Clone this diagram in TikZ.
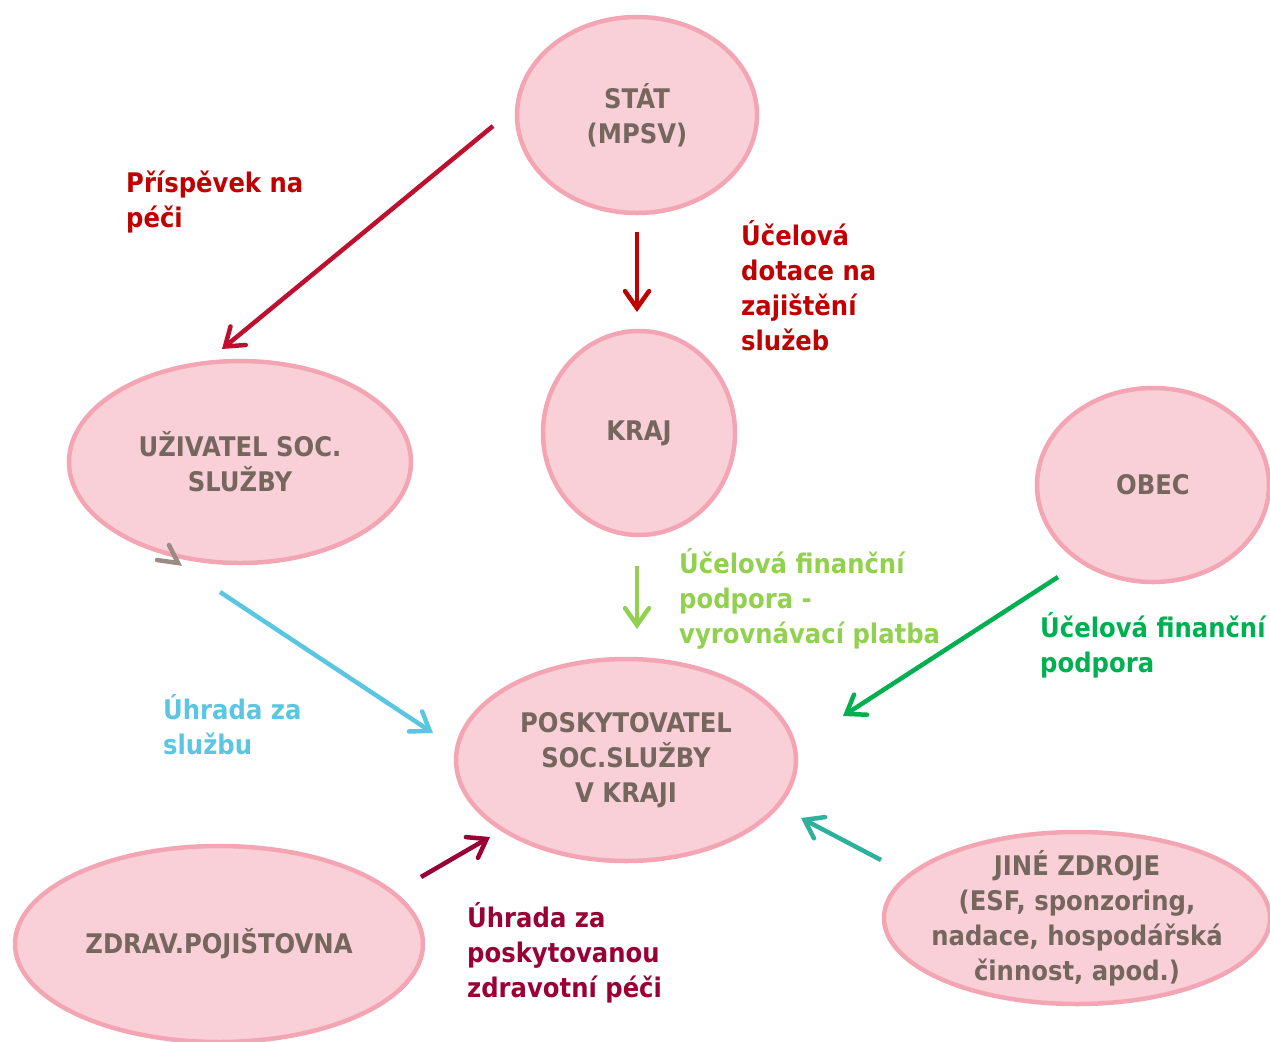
\documentclass[tikz,border=0pt]{standalone}
\usepackage{fontspec}
\setmainfont{DejaVu Sans}[FakeStretch=0.9]
\usetikzlibrary{shapes.geometric,arrows.meta}
\definecolor{pinkfill}{HTML}{F9D0D7}
\definecolor{pinkline}{HTML}{F4A5B4}
\definecolor{txtgray}{HTML}{75665E}
\definecolor{darkred}{HTML}{C00000}
\definecolor{arrred}{HTML}{BF0F2E}
\definecolor{skyblue}{HTML}{5BC6E1}
\definecolor{lgreen}{HTML}{92D050}
\definecolor{dgreen}{HTML}{00B050}
\definecolor{maroon}{HTML}{990033}
\definecolor{teal2}{HTML}{2DB09C}
\definecolor{grayarr}{HTML}{9C8B83}
\tikzset{
  bubble/.style={ellipse, draw=pinkline, fill=pinkfill, line width=4.5pt,
    inner xsep=-60pt, inner ysep=-30pt, align=center, text=txtgray, font=\bfseries\fontsize{27}{35}\selectfont},
  lbl/.style={anchor=base west, inner sep=0pt, align=left, font=\bfseries\fontsize{27}{35}\selectfont},
  flow/.style={line width=4.5pt, line cap=butt,
    -{Straight Barb[length=17pt, width=24pt, line width=4.5pt, line cap=round, line join=miter]}}
}
\begin{document}
\begin{tikzpicture}[x=1pt,y=-1pt]
\useasboundingbox (0,0) rectangle (1270,1042);
% ellipses
\node[bubble, minimum width=240pt, minimum height=196pt] (stat) at (637,115) {STÁT\\(MPSV)};
\node[bubble, minimum width=192pt, minimum height=204pt] (kraj) at (639,433) {KRAJ};
\node[bubble, minimum width=342pt, minimum height=202pt] (uziv) at (240,462) {UŽIVATEL SOC.\\SLUŽBY};
\node[bubble, minimum width=232pt, minimum height=194pt] (obec) at (1153,485) {OBEC};
\node[bubble, minimum width=340pt, minimum height=202pt] (posk) at (626,760) {POSKYTOVATEL\\SOC.SLUŽBY\\V KRAJI};
\node[bubble, minimum width=408pt, minimum height=196pt] (zdrav) at (219,944) {ZDRAV.POJIŠTOVNA};
\node[bubble, minimum width=386pt, minimum height=172pt] (jine) at (1077,918) {JINÉ ZDROJE\\(ESF, sponzoring,\\nadace, hospodářská\\činnost, apod.)};
% arrow end points
\coordinate (a1s) at (493,126); \coordinate (a1e) at (222,349);
\coordinate (a2s) at (637,232); \coordinate (a2e) at (637,312);
\coordinate (a3s) at (220,592); \coordinate (a3e) at (433,733);
\coordinate (a4s) at (637,566); \coordinate (a4e) at (637,629);
\coordinate (a5s) at (1058,577); \coordinate (a5e) at (843,716);
\coordinate (a6s) at (421,877); \coordinate (a6e) at (490,837);
\coordinate (a7s) at (881,860); \coordinate (a7e) at (801,818);
\draw[flow, arrred] (a1s) -- (a1e);
\draw[flow, darkred] (a2s) -- (a2e);
\draw[flow, skyblue] (a3s) -- (a3e);
\draw[flow, lgreen] (a4s) -- (a4e);
\draw[flow, dgreen] (a5s) -- (a5e);
\draw[flow, maroon] (a6s) -- (a6e);
\draw[flow, teal2] (a7s) -- (a7e);
% stray grey arrow head
\draw[grayarr, line width=4.5pt, line cap=round, line join=miter] (169,545) -- (178,563) -- (157,560);
% labels (base anchor = baseline of last line)
\node[lbl, text=darkred] (l1) at (126,227) {Příspěvek na\\péči};
\node[lbl, text=darkred] (l2) at (741,350) {Účelová\\dotace na\\zajištění\\služeb};
\node[lbl, text=skyblue] (l3) at (163,754) {Úhrada za\\službu};
\node[lbl, text=lgreen] (l4) at (679,643) {Účelová finanční\\podpora -\\vyrovnávací platba};
\node[lbl, text=dgreen] (l5) at (1040,672) {Účelová finanční\\podpora};
\node[lbl, text=maroon] (l6) at (467,997) {Úhrada za\\poskytovanou\\zdravotní péči};
\end{tikzpicture}
\end{document}
